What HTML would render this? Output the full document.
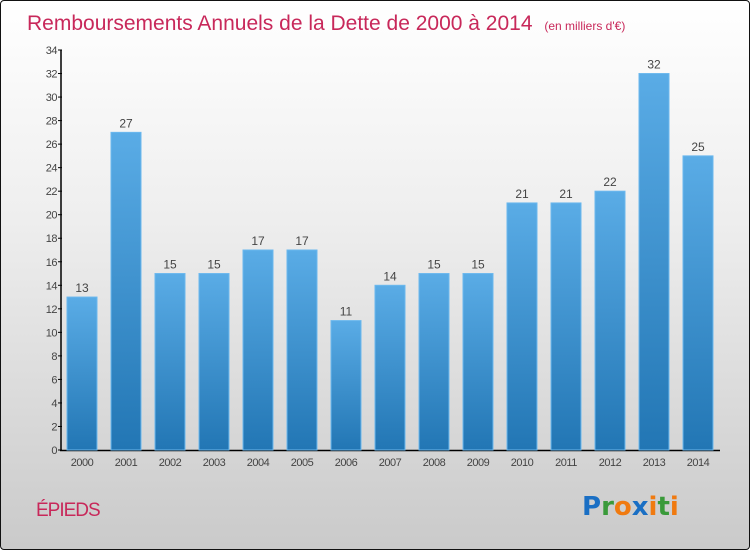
<!DOCTYPE html>
<html><head><meta charset="utf-8"><style>
body{margin:0;width:750px;height:550px;overflow:hidden;font-family:"Liberation Sans",sans-serif}
#frame{position:absolute;left:0;top:0;width:748px;height:548px;border:1px solid #111;border-radius:4px;background:linear-gradient(#fff 0%,#eee 40%,#cacaca 100%)}
</style></head><body>
<div id="frame">
<svg width="750" height="550" style="position:absolute;left:-1px;top:-1px">
<defs><linearGradient id="bg" x1="0" y1="0" x2="0" y2="1"><stop offset="0" stop-color="#5aace6"/><stop offset="1" stop-color="#2276b4"/></linearGradient></defs>
<text x="27" y="30" font-size="21" fill="#c8285a">Remboursements Annuels de la Dette de 2000 à 2014 <tspan font-size="12" dx="6">(en milliers d'€)</tspan></text>
<g id="axes"></g><g id="bars"></g>
<text x="36" y="516" font-size="19" fill="#c8285a" letter-spacing="-1">ÉPIEDS</text>
<g font-size="26" font-weight="bold" font-family="DejaVu Sans,sans-serif"><text x="582" y="515"><tspan fill="#1a6fc4">P</tspan><tspan fill="#3a9a3a">r</tspan><tspan fill="#f07a10">o</tspan><tspan fill="#1a6fc4">x</tspan><tspan fill="#f07a10">i</tspan><tspan fill="#3a9a3a">t</tspan><tspan fill="#f07a10">i</tspan></text></g>
</svg></div>
<script>
const years=["2000","2001","2002","2003","2004","2005","2006","2007","2008","2009","2010","2011","2012","2013","2014"];
const values=[13,27,15,15,17,17,11,14,15,15,21,21,22,32,25];
const yTicks=[0,2,4,6,8,10,12,14,16,18,20,22,24,26,28,30,32,34];
const NS="http://www.w3.org/2000/svg";
const y=v=>450-v*400/34, x=i=>67+i*44;
const ax=document.getElementById('axes'),bs=document.getElementById('bars');
function mk(t,a,p,txt){const e=document.createElementNS(NS,t);for(const k in a)e.setAttribute(k,a[k]);if(txt!=null)e.textContent=txt;p.appendChild(e);return e;}
let l=mk('line',{x1:61,y1:50,x2:61,y2:451,stroke:'#000','stroke-width':1.5},ax);


l=mk('line',{x1:60,y1:450.5,x2:720,y2:450.5,stroke:'#000','stroke-width':1.5},ax);


yTicks.forEach(v=>{mk('line',{x1:58,x2:62,y1:y(v),y2:y(v),stroke:'#000'},ax);
const t=mk('text',{x:57,y:y(v)+4,'text-anchor':'end','font-size':11,fill:'#444','letter-spacing':-0.5},ax,v);

});
values.forEach((v,i)=>{const r=mk('rect',{x:x(i),y:y(v),width:30,height:450-y(v),fill:'url(#bg)',stroke:'#6bb8ee','stroke-width':1},bs);


const t=mk('text',{x:x(i)+15,y:y(v)-5,'text-anchor':'middle','font-size':12,fill:'#444'},bs,v);


const yl=mk('text',{x:x(i)+15,y:466,'text-anchor':'middle','font-size':11,fill:'#444','letter-spacing':-0.5},bs,years[i]);

});
</script>
</body></html>
